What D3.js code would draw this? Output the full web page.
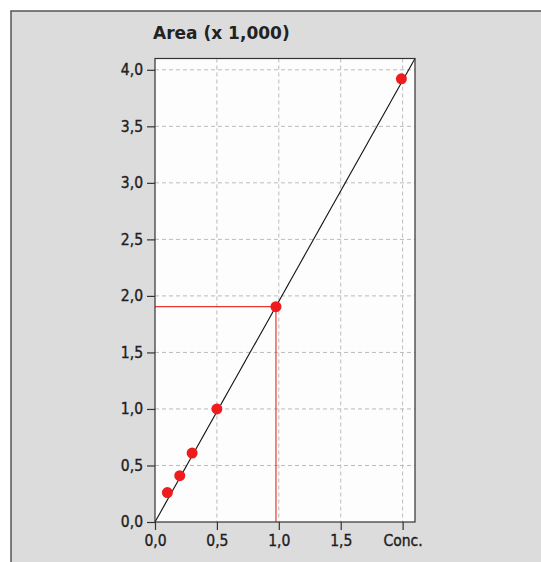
<!DOCTYPE html>
<html><head><meta charset="utf-8">
<script src="https://cdn.jsdelivr.net/npm/d3@7"></script>
<style>
body{margin:0;background:#fff;}
text{font-family:"DejaVu Sans Condensed","DejaVu Sans",sans-serif;fill:#222;}
</style></head>
<body>
<script>
const concValues = [0.1, 0.2, 0.3, 0.5, 0.977, 1.99];
const areaValues = [0.26, 0.41, 0.61, 1.0, 1.905, 3.92];
const fitLine = [[0, 0], [2.1, 4.1]];
const unknownPoint = [0.977, 1.905];
const xTicks = [0, 0.5, 1.0, 1.5, 2.0];
const xTickLabels = ["0,0", "0,5", "1,0", "1,5", "Conc."];
const yTicks = [0, 0.5, 1.0, 1.5, 2.0, 2.5, 3.0, 3.5, 4.0];
const yTickLabels = ["0,0", "0,5", "1,0", "1,5", "2,0", "2,5", "3,0", "3,5", "4,0"];
const titleText = "Area (x 1,000)";

(function(){
const W = 541, H = 562;
const svg = d3.select("body").append("svg").attr("width", W).attr("height", H);

svg.append("rect").attr("x", 11).attr("y", 11).attr("width", W).attr("height", H)
  .attr("fill", "#dcdcdd").attr("stroke", "#555").attr("stroke-width", 1.5);

const pl = 155, pr = 415, pt = 58.5, pb = 522;
const x = d3.scaleLinear().domain([0, 2.1]).range([pl, pr]);
const y = d3.scaleLinear().domain([0, 4.1]).range([pb, pt]);

svg.append("rect").attr("x", pl).attr("y", pt).attr("width", pr - pl).attr("height", pb - pt)
  .attr("fill", "#fdfdfd");

const g = svg.append("g");
g.selectAll(".gx").data(xTicks.filter(d => d > 0)).enter().append("line")
  .attr("x1", d => x(d)).attr("x2", d => x(d)).attr("y1", pt).attr("y2", pb)
  .attr("stroke", "#bbb").attr("stroke-dasharray", "4,3");
g.selectAll(".gy").data(yTicks.filter(d => d > 0)).enter().append("line")
  .attr("y1", d => y(d)).attr("y2", d => y(d)).attr("x1", pl).attr("x2", pr)
  .attr("stroke", "#bbb").attr("stroke-dasharray", "4,3");

svg.append("line").attr("x1", pl).attr("x2", x(unknownPoint[0])).attr("y1", y(unknownPoint[1])).attr("y2", y(unknownPoint[1]))
  .attr("stroke", "#e8392c").attr("stroke-width", 1.2);
svg.append("line").attr("x1", x(unknownPoint[0])).attr("x2", x(unknownPoint[0])).attr("y1", y(unknownPoint[1])).attr("y2", pb)
  .attr("stroke", "#e8392c").attr("stroke-width", 1.2);

svg.append("path").datum(fitLine).attr("d", d3.line().x(d => x(d[0])).y(d => y(d[1])))
  .attr("stroke", "#111").attr("stroke-width", 1.1).attr("fill", "none");

svg.selectAll(".pt").data(concValues).enter().append("circle")
  .attr("cx", d => x(d)).attr("cy", (d, i) => y(areaValues[i])).attr("r", 5.5)
  .attr("fill", "#ee1c1c");

svg.append("rect").attr("x", pl).attr("y", pt).attr("width", pr - pl).attr("height", pb - pt)
  .attr("fill", "none").attr("stroke", "#333").attr("stroke-width", 1.2);

const xAxis = d3.axisBottom(x).tickValues(xTicks).tickFormat((d, i) => xTickLabels[i]).tickSize(8).tickPadding(5);
const yAxis = d3.axisLeft(y).tickValues(yTicks).tickFormat((d, i) => yTickLabels[i]).tickSize(8).tickPadding(4);
const xa = svg.append("g").attr("transform", `translate(0,${pb})`).call(xAxis);
const ya = svg.append("g").attr("transform", `translate(${pl},0)`).call(yAxis);
[xa, ya].forEach(a => {
  a.select(".domain").remove();
  a.attr("font-family", null).attr("font-size", null);
  a.selectAll(".tick line").attr("stroke", "#333").attr("stroke-width", 1.2);
  a.selectAll("text").style("font-size", "15.5px").style("font-family", "'DejaVu Sans Condensed', 'DejaVu Sans', sans-serif")
    .attr("fill", "#1a1a1a").attr("stroke", "#1a1a1a").attr("stroke-width", 0.35);
});

svg.append("text").attr("x", 153).attr("y", 39).text(titleText)
  .style("font-family", "'DejaVu Sans', sans-serif")
  .style("font-size", "17px").style("font-weight", "bold").attr("fill", "#2a2a2a");
})();
</script>
</body></html>
